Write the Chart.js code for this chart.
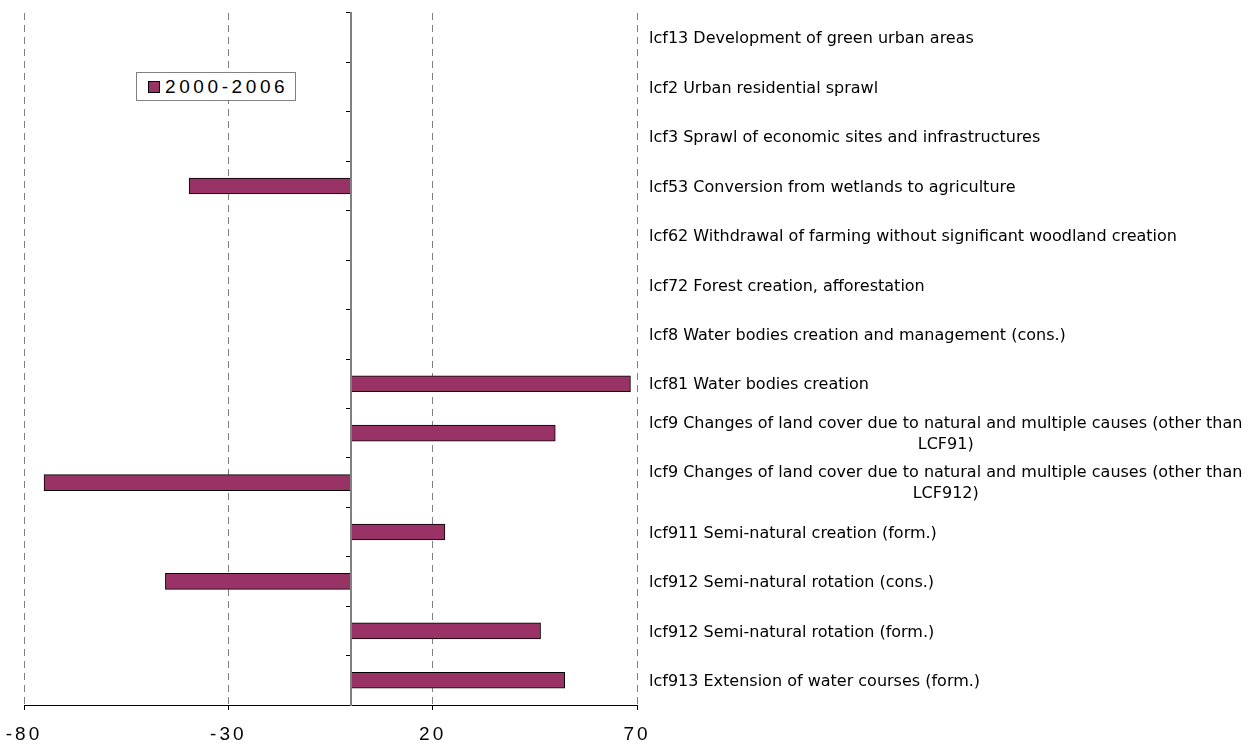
<!DOCTYPE html>
<html>
<head>
<meta charset="utf-8">
<title>Land cover flows 2000-2006</title>
<script src="https://cdn.jsdelivr.net/npm/chart.js@4.4.0/dist/chart.umd.min.js"></script>
<style>
  body { margin: 0; background: #fff; }
  #wrap { position: relative; width: 1252px; height: 744px; }
  #legendBox {
    position: absolute; left: 136px; top: 72px; width: 158px; height: 27px;
    border: 1px solid #808080; background: #fff;
    font: 19px "Liberation Sans", Arial, sans-serif; letter-spacing: 3.6px;
    display: flex; align-items: center;
  }
  #legendBox .swatch {
    width: 10px; height: 10px; background: #993366; border: 1px solid #000;
    margin: 0 5px 0 11px;
  }
</style>
</head>
<body>
<div id="wrap">
  <canvas id="lcfChart" width="1252" height="744"></canvas>
  <div id="legendBox"><span class="swatch"></span><span id="legendText"></span></div>
</div>
<script>
// land cover flows, top to bottom
const categories = [
  "lcf13 Development of green urban areas",
  "lcf2 Urban residential sprawl",
  "lcf3 Sprawl of economic sites and infrastructures",
  "lcf53 Conversion from wetlands to agriculture",
  "lcf62 Withdrawal of farming without significant woodland creation",
  "lcf72 Forest creation, afforestation",
  "lcf8 Water bodies creation and management (cons.)",
  "lcf81 Water bodies creation",
  ["lcf9 Changes of land cover due to natural and multiple causes (other than", "LCF91)"],
  ["lcf9 Changes of land cover due to natural and multiple causes (other than", "LCF912)"],
  "lcf911 Semi-natural creation (form.)",
  "lcf912 Semi-natural rotation (cons.)",
  "lcf912 Semi-natural rotation (form.)",
  "lcf913 Extension of water courses (form.)",
];
const seriesName = "2000-2006";
const values = [null, null, null, -39.6, null, null, null, 68.4, 50.0, -75.1, 23.0, -45.4, 46.4, 52.3];
const xTicks = [-80, -30, 20, 70];

const BAR_COLOR = "#993366";

document.getElementById("legendText").textContent = seriesName;

// widen the spacing of axis digits like the old spreadsheet look
const wideDigits = {
  id: "wideDigits",
  beforeDraw(chart) {
    chart.ctx.letterSpacing = "3px";
  },
};

// category names sit to the right of the plot, long ones wrap onto a centred second line
const categoryLabels = {
  id: "categoryLabels",
  afterDraw(chart) {
    const { ctx, chartArea, scales } = chart;
    const y = scales.y;
    ctx.save();
    ctx.letterSpacing = "0px";
    ctx.font = "16px 'DejaVu Sans', Verdana, sans-serif";
    ctx.fillStyle = "#000";
    ctx.textBaseline = "middle";
    const x0 = chartArea.right + 12;
    categories.forEach((label, i) => {
      const cy = y.getPixelForValue(i) + 1.5;
      if (Array.isArray(label)) {
        const w = ctx.measureText(label[0]).width;
        ctx.textAlign = "left";
        ctx.fillText(label[0], x0, cy - 11);
        ctx.textAlign = "center";
        ctx.fillText(label[1], x0 + w / 2, cy + 10);
      } else {
        ctx.textAlign = "left";
        ctx.fillText(label, x0, cy);
      }
    });
    ctx.restore();
  },
};

var ctx = document.getElementById("lcfChart").getContext("2d");
var lcfChart = new Chart(ctx, {
  type: "bar",
  data: {
    labels: categories.map((c) => (Array.isArray(c) ? c.join(" ") : c)),
    datasets: [
      {
        label: seriesName,
        data: values,
        backgroundColor: BAR_COLOR,
        borderColor: "#000",
        borderWidth: 1,
        borderSkipped: false,
        barThickness: 16,
      },
    ],
  },
  options: {
    indexAxis: "y",
    responsive: false,
    animation: false,
    layout: { padding: { left: 24, top: 13, right: 615, bottom: 0 } },
    plugins: {
      legend: { display: false },
      tooltip: { enabled: false },
    },
    scales: {
      x: {
        type: "linear",
        position: "bottom",
        min: xTicks[0],
        max: xTicks[xTicks.length - 1],
        afterBuildTicks: (scale) => {
          scale.ticks = xTicks.map((v) => ({ value: v }));
        },
        afterFit: (scale) => {
          scale.height = 39;
          scale.paddingLeft = 0;
          scale.paddingRight = 0;
        },
        grid: {
          color: "#808080",
          tickColor: "#000",
          tickLength: 5,
        },
        border: { color: "#000", width: 1, dash: [7, 5] },
        ticks: {
          color: "#000",
          padding: 13,
          font: { family: "'Liberation Sans', Arial, sans-serif", size: 19 },
        },
      },
      y: {
        type: "category",
        position: { x: 0 },
        offset: true,
        grid: {
          offset: true,
          drawOnChartArea: false,
          tickLength: 4,
          tickColor: "#000",
        },
        border: { color: "#808080", width: 2, z: 1 },
        ticks: { display: false },
      },
    },
  },
  plugins: [wideDigits, categoryLabels],
});
</script>
</body>
</html>
